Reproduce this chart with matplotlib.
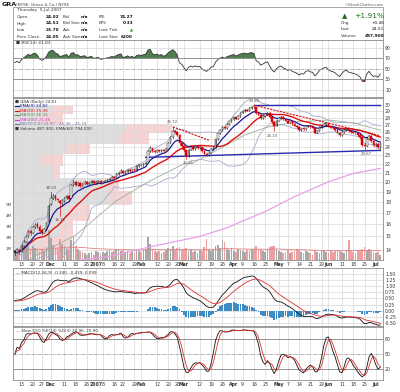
import numpy as np
import pandas as pd
import matplotlib
matplotlib.use("Agg")
import matplotlib.pyplot as plt
from matplotlib.patches import Rectangle
from matplotlib.transforms import blended_transform_factory

W, H = 400, 392

# ---- data ----
holidays = ["2006-11-23", "2006-12-25", "2007-01-01", "2007-01-02", "2007-01-15",
            "2007-02-19", "2007-04-06", "2007-05-28", "2007-07-04"]
dates = pd.bdate_range("2006-11-08", "2007-07-05")
dates = dates[~dates.isin(pd.to_datetime(holidays))]

close = [13.80, 13.95, 13.85, 14.30, 14.60, 14.95, 15.40, 15.30, 15.75, 15.95,
         15.80, 15.45, 15.35, 15.60, 16.10, 17.60, 18.40, 18.60, 18.30, 18.20,
         17.90, 18.10, 18.40, 18.55, 18.30, 19.70, 20.00, 19.70, 19.85, 19.60,
         19.80, 19.95, 19.75, 19.90, 20.05, 19.85, 19.95, 20.10, 19.90, 20.00,
         20.10, 20.20, 20.30, 20.50, 20.45, 20.80, 21.00, 21.20, 20.90, 21.10,
         21.30, 21.20, 21.35, 21.25, 21.70, 21.85, 21.80, 22.00, 22.10, 23.50,
         23.90, 23.50, 23.40, 23.60, 23.50, 23.70, 23.55, 23.80, 24.60, 25.30,
         26.20, 26.00, 25.60, 24.50, 24.20, 23.60, 22.90, 23.70, 24.00, 23.80,
         24.10, 23.90, 24.00, 23.50, 23.20, 23.00, 23.30, 23.80, 23.90, 25.00,
         25.80, 26.30, 26.70, 26.50, 27.10, 27.50, 27.80, 28.10, 27.90, 28.30,
         28.80, 29.00, 29.20, 29.10, 29.50, 29.70, 29.60, 28.70, 28.50, 28.00,
         28.30, 28.60, 28.80, 28.10, 27.40, 26.90, 27.60, 28.00, 28.20, 27.80,
         27.60, 27.30, 27.50, 27.10, 26.90, 26.70, 26.30, 26.50, 26.40, 26.80,
         26.90, 26.70, 26.60, 25.90, 26.20, 26.70, 26.90, 27.10, 27.20, 26.80,
         26.60, 26.50, 26.30, 25.90, 25.60, 26.00, 26.30, 26.40, 26.10, 26.00,
         25.90, 25.80, 25.60, 25.30, 24.30, 24.20, 25.10, 25.50, 24.80, 24.30,
         24.40, 24.05, 24.51]
open_ = [13.90, 13.80, 13.95, 13.90, 14.30, 14.60, 15.00, 15.40, 15.30, 15.75,
         16.00, 15.80, 15.50, 15.30, 15.60, 16.20, 17.80, 18.40, 18.60, 18.30,
         18.10, 17.90, 18.10, 18.40, 18.60, 18.40, 19.70, 20.00, 19.70, 19.90,
         19.60, 19.80, 19.95, 19.75, 19.90, 20.05, 19.85, 19.95, 20.10, 19.90,
         20.00, 20.10, 20.20, 20.30, 20.50, 20.45, 20.80, 21.00, 21.20, 20.90,
         21.10, 21.30, 21.20, 21.35, 21.25, 21.70, 21.85, 21.80, 22.00, 22.20,
         23.50, 23.90, 23.50, 23.40, 23.60, 23.50, 23.70, 23.55, 23.80, 24.60,
         25.30, 26.20, 26.00, 25.60, 24.50, 24.20, 23.60, 22.90, 23.70, 24.00,
         23.80, 24.10, 23.90, 24.00, 23.50, 23.20, 23.00, 23.30, 23.80, 23.90,
         25.00, 25.80, 26.30, 26.70, 26.50, 27.10, 27.50, 27.80, 28.10, 27.90,
         28.30, 28.80, 29.00, 29.20, 29.10, 29.50, 29.70, 29.60, 28.70, 28.50,
         28.00, 28.30, 28.60, 28.80, 28.10, 27.40, 26.90, 27.60, 28.00, 28.20,
         27.80, 27.60, 27.30, 27.50, 27.10, 26.90, 26.70, 26.30, 26.50, 26.40,
         26.80, 26.90, 26.70, 26.60, 25.90, 26.20, 26.70, 26.90, 27.10, 27.20,
         26.80, 26.60, 26.50, 26.30, 25.90, 25.60, 26.00, 26.30, 26.40, 26.10,
         26.00, 25.90, 25.80, 25.60, 25.30, 24.30, 24.20, 25.10, 25.50, 24.80,
         24.30, 24.40, 24.02]
high = [14.00, 14.05, 14.05, 14.40, 14.70, 15.10, 15.55, 15.50, 15.85, 16.10,
        16.15, 15.90, 15.60, 15.70, 16.20, 17.80, 18.93, 18.80, 18.70, 18.40,
        18.15, 18.30, 18.50, 18.70, 18.70, 19.80, 20.20, 20.10, 19.95, 19.95,
        19.90, 20.05, 20.05, 20.00, 20.15, 20.10, 20.05, 20.20, 20.15, 20.10,
        20.20, 20.30, 20.40, 20.60, 20.60, 20.90, 21.10, 21.35, 21.25, 21.20,
        21.40, 21.40, 21.45, 21.45, 21.80, 21.95, 21.95, 22.10, 22.20, 23.70,
        24.10, 23.95, 23.60, 23.70, 23.70, 23.80, 23.75, 23.90, 24.70, 25.40,
        26.72, 26.30, 26.10, 25.70, 24.60, 24.30, 23.70, 23.80, 24.10, 24.10,
        24.20, 24.15, 24.10, 24.05, 23.60, 23.30, 23.40, 23.90, 24.00, 25.10,
        25.90, 26.40, 26.90, 26.80, 27.20, 27.60, 27.90, 28.20, 28.20, 28.40,
        28.90, 29.10, 29.30, 29.30, 29.60, 29.80, 29.89, 29.65, 28.80, 28.60,
        28.40, 28.70, 28.90, 28.90, 28.20, 27.50, 27.70, 28.10, 28.30, 28.30,
        27.90, 27.70, 27.60, 27.60, 27.20, 27.00, 26.80, 26.60, 26.60, 26.90,
        27.00, 27.00, 26.80, 26.70, 26.30, 26.80, 27.00, 27.20, 27.30, 27.30,
        26.90, 26.70, 26.60, 26.40, 26.00, 26.10, 26.40, 26.50, 26.50, 26.20,
        26.10, 26.00, 25.90, 25.70, 25.40, 24.60, 25.20, 25.60, 25.60, 24.90,
        24.60, 24.50, 24.51]
low = [13.60, 13.75, 13.70, 13.85, 14.25, 14.55, 14.95, 15.15, 15.25, 15.65,
       15.70, 15.35, 15.20, 15.25, 15.50, 16.10, 17.70, 18.30, 18.20, 18.05,
       16.71, 17.70, 17.95, 18.30, 18.20, 18.40, 19.60, 19.60, 19.60, 19.50,
       19.55, 19.75, 19.65, 19.70, 19.85, 19.75, 19.80, 19.90, 19.80, 19.85,
       19.95, 20.05, 20.15, 20.25, 20.30, 20.40, 20.75, 20.95, 20.80, 20.85,
       21.05, 21.10, 21.15, 21.15, 21.20, 21.60, 21.70, 21.75, 21.95, 22.15,
       23.40, 23.40, 23.30, 23.35, 23.40, 23.45, 23.45, 23.50, 23.75, 24.50,
       25.20, 25.80, 25.40, 24.30, 24.00, 23.50, 22.61, 22.85, 23.60, 23.70,
       23.70, 23.80, 23.80, 23.40, 23.10, 22.90, 22.95, 23.25, 23.70, 23.85,
       24.95, 25.70, 26.20, 26.40, 26.40, 27.00, 27.40, 27.70, 27.80, 27.85,
       28.20, 28.70, 28.90, 29.00, 29.05, 29.40, 29.50, 28.60, 28.40, 27.90,
       27.90, 28.20, 28.50, 28.00, 27.30, 26.10, 26.80, 27.50, 27.90, 27.70,
       27.50, 27.20, 27.20, 27.00, 26.80, 26.60, 26.20, 26.20, 26.30, 26.30,
       26.70, 26.60, 26.50, 25.80, 25.80, 26.10, 26.60, 26.80, 27.00, 26.70,
       26.50, 26.40, 26.20, 25.80, 25.50, 25.50, 25.90, 26.20, 26.00, 25.90,
       25.80, 25.70, 25.50, 25.20, 24.20, 23.67, 24.10, 25.00, 24.70, 24.20,
       24.20, 23.90, 23.70]
volume = [0.9, 1.1, 0.8, 1.3, 1.5, 1.2, 1.6, 1.0, 1.3, 1.1,
          0.9, 0.7, 1.0, 0.8, 1.2, 2.7, 2.0, 1.4, 1.1, 1.0,
          1.9, 1.5, 1.3, 1.0, 0.9, 1.8, 2.1, 1.3, 1.0, 0.8,
          0.7, 0.6, 0.5, 0.6, 0.7, 0.5, 0.8, 0.7, 0.6, 0.7,
          0.6, 0.8, 0.9, 0.7, 0.8, 1.0, 0.9, 0.8, 0.9, 0.7,
          0.8, 0.6, 0.7, 0.6, 0.9, 0.8, 0.7, 0.9, 1.0, 2.1,
          1.5, 1.0, 0.8, 0.7, 0.8, 0.6, 0.7, 0.9, 1.1, 1.0,
          1.3, 0.9, 1.1, 1.2, 0.9, 1.0, 1.1, 0.8, 0.9, 0.7,
          0.8, 0.6, 0.9, 0.8, 1.2, 1.9, 1.0, 0.8, 0.9, 1.3,
          1.4, 1.1, 1.8, 1.6, 1.0, 0.9, 1.1, 0.8, 0.7, 1.0,
          0.9, 0.8, 0.7, 0.9, 0.8, 1.0, 1.0, 1.3, 0.9, 1.0,
          0.8, 0.7, 1.0, 1.2, 1.3, 1.3, 1.0, 0.8, 0.7, 0.6,
          0.7, 0.9, 0.6, 0.7, 0.8, 1.0, 0.9, 0.7, 0.6, 0.8,
          0.7, 0.6, 0.5, 0.9, 0.7, 0.6, 0.8, 0.9, 0.7, 0.6,
          0.8, 0.7, 0.8, 0.9, 0.8, 0.7, 0.6, 0.9, 1.8, 0.8,
          0.7, 0.6, 0.8, 0.9, 1.0, 1.2, 0.9, 1.0, 0.8, 0.7,
          0.6, 0.7, 0.49]  # millions of shares

ma50_dates = ["2006-11-08", "2006-11-15", "2006-12-18", "2007-01-17", "2007-02-07",
              "2007-03-01", "2007-03-07", "2007-03-28", "2007-04-10", "2007-04-23",
              "2007-05-10", "2007-06-01", "2007-06-18", "2007-07-05"]
ma50_vals = [12.6, 13.2, 15.1, 18.1, 20.1, 22.0, 22.1, 24.3, 25.6, 26.6,
             27.4, 27.7, 27.3, 26.24]
ma200_dates = ["2006-11-08", "2006-12-18", "2007-01-11", "2007-02-07", "2007-03-12",
               "2007-03-28", "2007-04-23", "2007-05-10", "2007-06-01", "2007-06-18",
               "2007-07-05"]
ma200_vals = [12.7, 13.2, 13.5, 14.2, 15.0, 15.7, 17.1, 18.5, 20.0, 20.9, 21.46]

# indicator state carried in from before the first visible bar
rsi_seed = (0.13, 0.08)          # avg gain, avg loss
macd_seed = (13.25, 12.85, 0.38)  # ema12, ema26, signal

# volume-by-price zones (price edges), up / down volume (relative units)
vbp_edges = [13.60, 14.96, 16.31, 17.67, 19.03, 20.39, 21.74, 23.10, 24.46,
             25.82, 27.17, 28.53, 29.89]
vbp_up = [24, 47, 57, 97, 97, 40, 27, 54, 107, 114, 27, 39]
vbp_down = [35, 13, 20, 23, 10, 7, 23, 23, 30, 46, 23, 21]

trend_lines = [  # (start date, start price, end date, end price, color, style)
    ("2007-04-16", 30.05, "2007-07-05", 30.05, "#2a2ab0", "-"),
    ("2007-02-05", 22.75, "2007-07-05", 23.60, "#2a2ab0", "-"),
    ("2007-04-16", 29.95, "2007-07-05", 25.50, "#d01010", "--"),
    ("2007-02-22", 26.72, "2007-03-16", 24.90, "#d01010", "--"),
]
price_notes = [("2006-12-01", 18.93, "18.93", 1), ("2006-12-07", 16.71, "16.71", -1),
               ("2007-02-22", 26.72, "26.72", 1), ("2007-03-05", 22.61, "22.61", -1),
               ("2007-04-16", 29.89, "29.89", 1), ("2007-04-26", 26.10, "26.10", -1),
               ("2007-06-26", 23.67, "23.67", -1)]

tick_dates = ["2006-11-13", "2006-11-20", "2006-11-27", "2006-12-01", "2006-12-11",
              "2006-12-18", "2006-12-26", "2007-01-03", "2007-01-08", "2007-01-16",
              "2007-01-22", "2007-01-29", "2007-02-01", "2007-02-12", "2007-02-20",
              "2007-02-26", "2007-03-01", "2007-03-12", "2007-03-19", "2007-03-26",
              "2007-04-02", "2007-04-09", "2007-04-16", "2007-04-23", "2007-05-01",
              "2007-05-07", "2007-05-14", "2007-05-21", "2007-05-29", "2007-06-01",
              "2007-06-11", "2007-06-18", "2007-06-25", "2007-07-02"]
tick_text = ["13", "20", "27", "Dec", "11", "18", "26", "2007", "8", "16", "22", "29",
             "Feb", "12", "20", "26", "Mar", "12", "19", "26", "Apr", "9", "16", "23",
             "May", "7", "14", "21", "29", "Jun", "11", "18", "25", "Jul"]

# ---- indicators ----
n = len(close)
dates = dates[:n]
x = np.arange(n)
pos = {d: i for i, d in enumerate(dates)}
def di(s):
    return pos[pd.Timestamp(s)]

def ema(vals, alpha, start):
    out, e = [], start
    for v in vals:
        e = e + alpha * (v - e)
        out.append(e)
    return np.array(out)

c = pd.Series(close)
hi = pd.Series(high)
lo = pd.Series(low)
ema9 = c.ewm(span=9, adjust=False).mean()
ma20 = c.rolling(20, min_periods=1).mean()
sd20 = c.rolling(20, min_periods=2).std(ddof=0)
bb_up, bb_dn = ma20 + 2 * sd20, ma20 - 2 * sd20
d = c.diff().fillna(0).to_numpy()
ag = ema(np.clip(d, 0, None), 1 / 14, rsi_seed[0])
al = ema(np.clip(-d, 0, None), 1 / 14, rsi_seed[1])
rsi = 100 - 100 / (1 + ag / al)
macd = ema(close, 2 / 13, macd_seed[0]) - ema(close, 2 / 27, macd_seed[1])
sig = ema(macd, 2 / 10, macd_seed[2])
hist = macd - sig
fk = 100 * (c - lo.rolling(14, min_periods=1).min()) / (
    hi.rolling(14, min_periods=1).max() - lo.rolling(14, min_periods=1).min())
sk = fk.rolling(3, min_periods=1).mean()
sd = sk.rolling(3, min_periods=1).mean()
vol = pd.Series(volume)
vol_ema = vol.ewm(span=60, adjust=False).mean()

# ---- layout ----
fig = plt.figure(figsize=(W / 100, H / 100), dpi=100)
fig.patch.set_facecolor("white")

def box(top, bottom, left=13, right=383):
    return [left / W, 1 - bottom / H, (right - left) / W, (bottom - top) / H]

def ftxt(px, py, s, **kw):
    kw.setdefault("fontsize", 3.1)
    kw.setdefault("va", "center")
    fig.text(px / W, 1 - py / H, s, **kw)

ax_r = fig.add_axes(box(40, 97))
ax_p = fig.add_axes(box(98, 260))
ax_m = fig.add_axes(box(268, 326))
ax_s = fig.add_axes(box(327, 380))

tick_x = [di(t) for t in tick_dates]
bold_lbl = {"Dec", "2007", "Feb", "Mar", "Apr", "May", "Jun", "Jul"}
GRID = "#d8d8d8"
for ax in (ax_r, ax_p, ax_m, ax_s):
    ax.set_xlim(-0.8, n + 0.2)
    ax.set_xticks(tick_x)
    ax.grid(True, color=GRID, lw=0.5)
    ax.set_axisbelow(True)
    for sp in ax.spines.values():
        sp.set_color("#8c8c8c")
        sp.set_linewidth(0.6)
    ax.tick_params(length=0, labelsize=3.3, colors="#333333", pad=1.5)
    ax.yaxis.tick_right()
for ax in (ax_r, ax_m):
    ax.tick_params(labelbottom=False)
for ax in (ax_p, ax_s):
    ax.set_xticklabels(tick_text)
    for t in ax.get_xticklabels():
        if t.get_text() in bold_lbl:
            t.set_fontweight("bold")

# ---- header ----
ftxt(2, 4.5, "GRA", fontsize=4.6, weight="bold", color="#1a1a1a")
ftxt(15.5, 4.5, "(NYSE: Grace & Co.) NYSE", fontsize=3.0, color="#444444")
ftxt(384, 4.5, "\u00a9StockCharts.com", fontsize=3.0, color="#555555", ha="right")
fig.patches.append(Rectangle((13 / W, 1 - 40 / H), 370 / W, 33 / H, transform=fig.transFigure,
                             fill=False, ec="#9a9a9a", lw=0.6))
ftxt(17, 10.5, "Thursday  5-Jul-2007", color="#333333")
rows = [("Open", "24.02", "Bid", "n/a", "P/E", "74.27"),
        ("High", "24.51", "Bid Size", "n/a", "EPS", "0.33"),
        ("Low", "23.70", "Ask", "n/a", "Last Tick", ""),
        ("Prev Close", "24.05", "Ask Size", "n/a", "Last Size", "6200")]
for k, r in enumerate(rows):
    yy = 17 + 6.5 * k
    ftxt(17, yy, r[0], color="#333333")
    ftxt(59, yy, r[1], ha="right", weight="bold", color="#111111")
    ftxt(63, yy, r[2], color="#333333")
    ftxt(88, yy, r[3], ha="right", weight="bold", color="#111111")
    ftxt(99, yy, r[4], color="#333333")
    ftxt(133, yy, r[5], ha="right", weight="bold", color="#111111")
ftxt(131, 30, "\u25b2", ha="center", fontsize=2.8, color="#1e8c1e")
ftxt(345, 16, "\u25b2", ha="center", fontsize=5, color="#1e6e1e")
ftxt(384, 16, "+1.91%", ha="right", fontsize=5.4, color="#1e6e1e")
for k, (a, b) in enumerate([("Chg", "+0.46"), ("Last", "24.51"), ("Volume", "487,900")]):
    ftxt(341, 23 + 6.5 * k, a, color="#333333")
    ftxt(384, 23 + 6.5 * k, b, ha="right", weight="bold" if k == 2 else "normal",
         color="#111111")

# ---- RSI ----
ax_r.plot(x, rsi, color="#333333", lw=0.6)
ax_r.fill_between(x, rsi, 70, where=rsi > 70, interpolate=True, color="#4f7f4f", lw=0)
ax_r.fill_between(x, rsi, 30, where=rsi < 30, interpolate=True, color="#c04040", lw=0)
ax_r.axhline(70, color="#888888", lw=0.6)
ax_r.axhline(30, color="#888888", lw=0.6)
ax_r.axhline(50, color="#999999", lw=0.5, ls=(0, (4, 2, 1, 2)))
ax_r.set_ylim(-4, 105)
ax_r.set_yticks([10, 30, 50, 70, 90])
ax_r.text(0.008, 0.94, "\u25a0 RSI(14) 41.83", transform=ax_r.transAxes, fontsize=3.1,
          va="center", color="#333333")

# ---- price panel ----
ax_p.set_yscale("log")
ax_p.set_ylim(13.25, 31.1)
pt = list(range(14, 31))
ax_p.set_yticks(pt)
ax_p.set_yticklabels([str(v) for v in pt])
ax_p.yaxis.set_minor_locator(matplotlib.ticker.NullLocator())
bt = blended_transform_factory(ax_p.transAxes, ax_p.transData)
vmax = max(np.add(vbp_up, vbp_down))
for j in range(len(vbp_up)):
    lo_e, hi_e = vbp_edges[j], vbp_edges[j + 1]
    wu = vbp_up[j] / vmax * 0.43
    wd = vbp_down[j] / vmax * 0.43
    ax_p.add_patch(Rectangle((0, lo_e), wu, hi_e - lo_e, transform=bt, color="#dedede",
                             lw=0, zorder=0.5))
    ax_p.add_patch(Rectangle((wu, lo_e), wd, hi_e - lo_e, transform=bt, color="#f7d4d4",
                             lw=0, zorder=0.5))

# volume bars along the bottom (11 px per million)
vt = blended_transform_factory(ax_p.transData, ax_p.transAxes)
vscale = 11 / 162
for i in range(n):
    up = i == 0 or close[i] >= close[i - 1]
    ax_p.add_patch(Rectangle((i - 0.38, 0), 0.76, volume[i] * vscale, transform=vt,
                             color="#a8a8a8" if up else "#eea0a0", lw=0, zorder=1))
ax_p.plot(x, vol_ema * vscale, transform=vt, color="#e08080", lw=0.6, zorder=1.2)
for m in range(1, 6):
    ax_p.text(-0.004, m * vscale, f"{m}M", transform=ax_p.transAxes, ha="right",
              va="center", fontsize=3.0, color="#444444")

ax_p.plot(x, bb_up, color="#a9a9cc", lw=0.6, zorder=2)
ax_p.plot(x, bb_dn, color="#a9a9cc", lw=0.6, zorder=2)
ax_p.plot([di(s) for s in ma50_dates], ma50_vals, color="#9ab09a", lw=0.6, zorder=2)
ax_p.plot([di(s) for s in ma200_dates], ma200_vals, color="#e8a0e8", lw=0.9, zorder=2)
ax_p.plot(x, ma20, color="#dd1111", lw=1.0, zorder=3)
ax_p.plot(x, ema9, color="#1a1a99", lw=0.9, zorder=3)
for s0, p0, s1, p1, col, ls in trend_lines:
    ax_p.plot([di(s0), di(s1)], [p0, p1], color=col, lw=1.0 if ls == "-" else 0.8,
              ls=ls, zorder=3.5, dashes=(2, 1) if ls == "--" else (None, None))

for i in range(n):
    dn = i > 0 and close[i] < close[i - 1]
    col = "#dd0000" if dn else "#222222"
    ax_p.plot([i, i], [low[i], high[i]], color=col, lw=0.45, zorder=4)
    b0, b1 = min(open_[i], close[i]), max(open_[i], close[i])
    if b1 - b0 < 0.02:
        b1 = b0 + 0.02
    filled = close[i] < open_[i]
    ax_p.add_patch(Rectangle((i - 0.35, b0), 0.7, b1 - b0, fc=col if filled else "white",
                             ec=col, lw=0.35, zorder=4.5))

for s, p, t, sgn in price_notes:
    ax_p.annotate(t, (di(s), p), xytext=(0, 3.2 * sgn), textcoords="offset points",
                  ha="center", va="center", fontsize=2.8, color="#555555", zorder=6)

leg = [("\u25a0 GRA (Daily) 24.51", "#333333", None),
       ("EMA(9) 24.82", "#1a1a99", "#1a1a99"),
       ("MA(20) 25.36", "#dd1111", "#dd1111"),
       ("MA(50) 26.24", "#5a8a5a", "#5a8a5a"),
       ("MA(200) 21.46", "#cc44cc", "#cc44cc"),
       ("BB(20,2.0) 23.97 - 25.36 - 26.74", "#7777aa", "#7777aa"),
       ("\u25a0 Volume 487,900, EMA(60) 794,000", "#333333", None)]
for k, (t, col, lc) in enumerate(leg):
    yy = 101.5 + 4.55 * k
    if lc is None:
        ftxt(15, yy, t, fontsize=3.0, color=col)
    else:
        fig.lines.append(plt.Line2D([15 / W, 19 / W], [1 - yy / H, 1 - yy / H],
                                    transform=fig.transFigure, color=lc, lw=0.8))
        ftxt(20, yy, t, fontsize=3.0, color=col)

# ---- MACD ----
ax_m.bar(x, hist, width=0.8, color="#3d8cc4", lw=0, zorder=2)
ax_m.plot(x, macd, color="#111111", lw=0.6, zorder=3)
ax_m.plot(x, sig, color="#e03030", lw=0.6, zorder=3)
ax_m.set_ylim(-0.63, 1.75)
mt = [-0.5, -0.25, 0, 0.25, 0.5, 0.75, 1.0, 1.25, 1.5]
ax_m.set_yticks(mt)
ax_m.set_yticklabels([f"{v:.2f}" for v in mt])
ax_m.text(0.008, 0.92, "\u2014 MACD(12,26,9) -0.340, -0.439, 0.099", transform=ax_m.transAxes,
          fontsize=3.0, va="center", color="#333333")

# ---- Slow stochastic ----
ax_s.plot(x, sk, color="#111111", lw=0.6, zorder=3)
ax_s.plot(x, sd, color="#e03030", lw=0.6, zorder=3)
ax_s.axhline(80, color="#888888", lw=0.6)
ax_s.axhline(20, color="#888888", lw=0.6)
ax_s.axhline(50, color="#999999", lw=0.5, ls=(0, (4, 2, 1, 2)))
ax_s.set_ylim(-1, 104)
ax_s.set_yticks([20, 50, 80])
ax_s.text(0.008, 0.93, "\u2014 Slow STO %K(14) %D(3) 20.96, 25.90", transform=ax_s.transAxes,
          fontsize=3.0, va="center", color="#333333")

fig.savefig("out.png", dpi=100, facecolor="white")
